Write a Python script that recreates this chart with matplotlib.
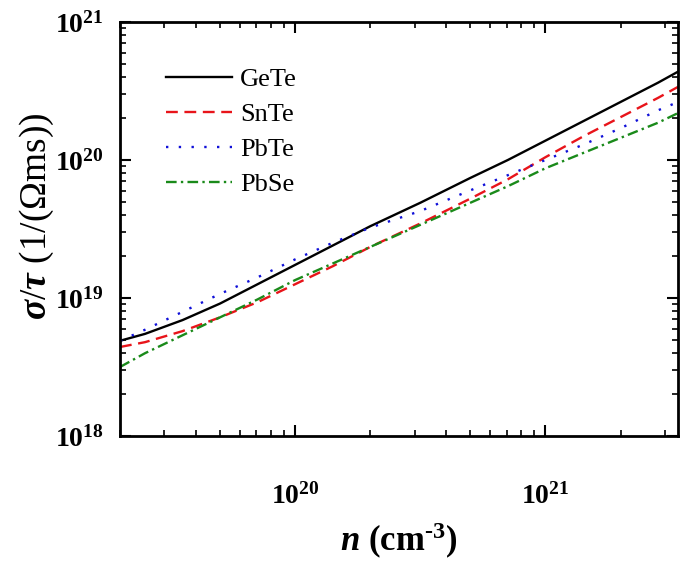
import numpy as np
import matplotlib
matplotlib.use("Agg")
import matplotlib.pyplot as plt
from matplotlib.ticker import LogLocator, NullFormatter, FuncFormatter

plt.rcParams['font.family'] = 'Liberation Serif'
plt.rcParams['mathtext.fontset'] = 'custom'
plt.rcParams['mathtext.rm'] = 'Liberation Serif'
plt.rcParams['mathtext.bf'] = 'Liberation Serif:bold'
plt.rcParams['mathtext.it'] = 'Liberation Serif:italic:bold'

# carrier concentration (cm^-3), log10 values
log_n = [19.30, 19.40, 19.55, 19.70, 19.85, 20.00, 20.15, 20.30, 20.50, 20.70, 20.85, 21.00, 21.15, 21.30, 21.45, 21.53]

# log10 of sigma/tau (1/(Ohm m s)) for each compound
gete = [18.69, 18.74, 18.84, 18.96, 19.10, 19.24, 19.38, 19.52, 19.69, 19.87, 20.00, 20.14, 20.28, 20.42, 20.56, 20.64]
snte = [18.645, 18.68, 18.76, 18.86, 18.97, 19.10, 19.23, 19.37, 19.54, 19.72, 19.86, 20.02, 20.17, 20.31, 20.45, 20.53]
pbte = [18.69, 18.77, 18.90, 19.03, 19.15, 19.28, 19.40, 19.51, 19.63, 19.78, 19.89, 20.00, 20.11, 20.23, 20.36, 20.42]
pbse = [18.50, 18.60, 18.73, 18.86, 18.99, 19.13, 19.25, 19.37, 19.53, 19.69, 19.81, 19.94, 20.05, 20.16, 20.27, 20.34]

labels = ['GeTe', 'SnTe', 'PbTe', 'PbSe']
colors = ['black', '#e8141a', '#1010d8', '#1a8a1a']
styles = ['-', (0, (5, 2.8)), (0, (1, 4.4)), (0, (4.5, 1.8, 1, 1.8))]

fig = plt.figure(figsize=(6.85, 5.68), dpi=100)
ax = fig.add_axes([120/685, 1-436/568, 558/685, 414/568])

n = 10.0 ** np.array(log_n)
for ys, lab, c, ls in zip([gete, snte, pbte, pbse], labels, colors, styles):
    ax.plot(n, 10.0 ** np.array(ys), color=c, linestyle=ls, lw=1.7, label=lab)

ax.set_xscale('log')
ax.set_yscale('log')
ax.set_xlim(10**19.30, 10**21.53)
ax.set_ylim(1e18, 1e21)

fmt = FuncFormatter(lambda v, p: r'$\mathbf{10^{%d}}$' % round(np.log10(v)))
for axis in (ax.xaxis, ax.yaxis):
    axis.set_major_locator(LogLocator(base=10, numticks=10))
    axis.set_minor_locator(LogLocator(base=10, subs=np.arange(2, 10), numticks=20))
    axis.set_major_formatter(fmt)
    axis.set_minor_formatter(NullFormatter())

ax.tick_params(which='both', direction='in', top=True, right=True, labelsize=20)
ax.tick_params(which='major', length=8, width=1.5)
ax.tick_params(which='minor', length=4.5, width=1.2)
ax.tick_params(axis='x', which='major', pad=34)
ax.tick_params(axis='y', which='major', pad=12)
for sp in ax.spines.values():
    sp.set_linewidth(2)

ax.set_xlabel('$\\mathit{n}$ (cm$^{\\mathbf{\u20103}}$)', fontsize=25, fontweight='bold')
ax.xaxis.set_label_coords(0.5, -0.205)
ax.set_ylabel(r'$\mathit{\sigma/\tau}$ (1/(Ωms))', fontsize=27)
ax.yaxis.set_label_coords(-0.115, 0.53)

leg = ax.legend(loc='upper left', bbox_to_anchor=(0.082, 0.89), frameon=False,
                borderaxespad=0, borderpad=0,
                fontsize=19, handlelength=2.5, handletextpad=0.32, labelspacing=0.44)

fig.savefig('out.png', dpi=100)
